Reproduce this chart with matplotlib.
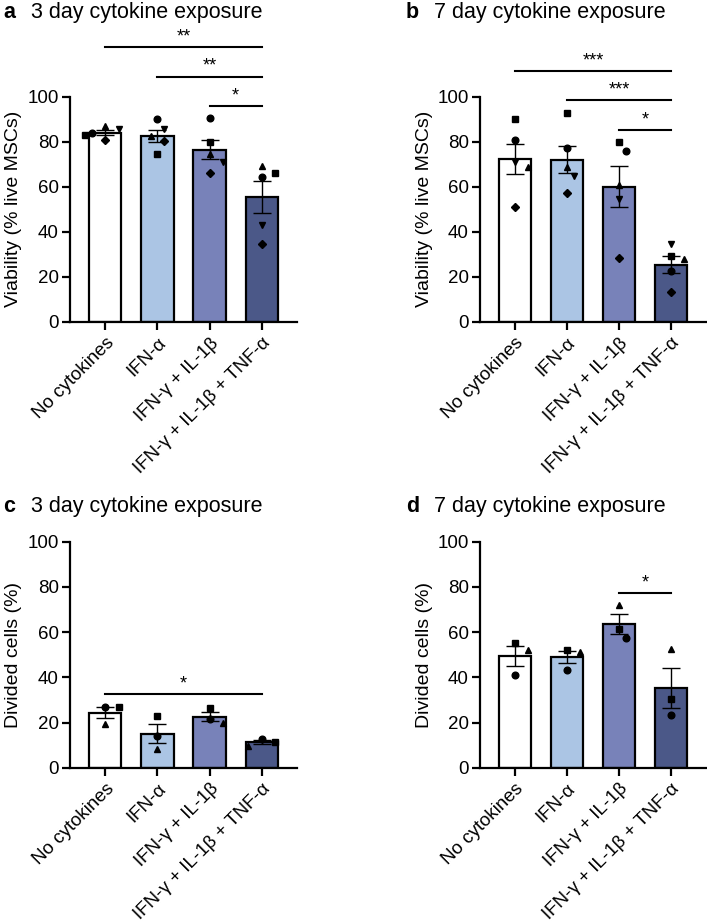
import numpy as np
import matplotlib
matplotlib.use("Agg")
import matplotlib.pyplot as plt

plt.rcParams['font.family'] = ['Liberation Sans', 'DejaVu Sans']

groups = ['No cytokines', 'IFN-α', 'IFN-γ + IL-1β', 'IFN-γ + IL-1β + TNF-α']
bar_colors = ['#ffffff', '#abc5e4', '#7882b9', '#4b5888']

# donors for the viability panels (5 donors) and proliferation panels (3 donors)
markers5 = ['o', 's', '^', 'v', 'D']
markers3 = ['s', 'o', '^']

# viability, 3 days: rows = group, cols = donor (o, s, ^, v, D)
via_3d = [[84.0, 83.0, 87.0, 85.5, 80.8],
          [90.0, 74.5, 82.5, 85.5, 80.3],
          [90.4, 80.0, 74.4, 71.2, 66.0],
          [64.2, 66.3, 69.2, 43.0, 34.5]]
# viability, 7 days
via_7d = [[80.8, 90.0, 68.6, 71.1, 51.1],
          [77.1, 92.9, 68.6, 64.8, 57.1],
          [76.0, 79.7, 60.8, 54.8, 28.6],
          [22.5, 29.3, 27.9, 34.8, 13.1]]
# divided cells, 3 days: cols = donor (s, o, ^)
div_3d = [[26.9, 26.9, 19.3],
          [22.9, 14.0, 8.2],
          [26.6, 21.5, 19.6],
          [11.2, 12.7, 9.7]]
# divided cells, 7 days
div_7d = [[55.3, 40.9, 51.9],
          [51.9, 43.4, 51.2],
          [61.5, 57.3, 71.8],
          [30.3, 23.2, 52.4]]

# significance comparisons: (group i, group j, label), drawn bottom-up
sig_a = [(2, 3, '*'), (1, 3, '**'), (0, 3, '**')]
sig_b = [(2, 3, '*'), (1, 3, '***'), (0, 3, '***')]
sig_c = [(0, 3, '*')]
sig_d = [(2, 3, '*')]

W, H = 707, 924
fig = plt.figure(figsize=(W / 100, H / 100), dpi=100)


def px_axes(left, right, top, bottom):
    return fig.add_axes([left / W, (H - bottom) / H, (right - left) / W, (bottom - top) / H])


def swarm(ax, x0, values, step_px=6.7, min_px=10.5):
    # simple beeswarm: spread points sideways when they would overlap
    order = np.argsort(values)[::-1]
    placed = []
    offs = np.zeros(len(values))
    cand = [0, 1, -1, 2, -2, 3, -3]
    for k in order:
        py = ax.transData.transform((x0, values[k]))[1]
        for c in cand:
            px = c * step_px
            if all(np.hypot(px - qx, py - qy) >= min_px for qx, qy in placed):
                break
        placed.append((px, py))
        offs[k] = px
    # convert pixel offsets to data units
    p0 = ax.transData.transform((x0, 0))[0]
    p1 = ax.transData.transform((x0 + 1, 0))[0]
    return x0 + offs / (p1 - p0)


def panel(ax, data, markers, sigs, ylabel, letter, title, title_xy):
    data = [np.array(d) for d in data]
    x = np.arange(len(groups))
    means = [d.mean() for d in data]
    sems = [d.std(ddof=1) / np.sqrt(len(d)) for d in data]
    ax.set_xlim(-0.673, 3.673)
    ax.set_ylim(0, 100)
    ax.bar(x, means, width=0.62, color=bar_colors, edgecolor='black', linewidth=1.6, zorder=2)
    ax.errorbar(x, means, yerr=sems, fmt='none', ecolor='black', elinewidth=1.0,
                capsize=6.5, capthick=1.0, zorder=3)
    for i, d in enumerate(data):
        xs = swarm(ax, x[i], d)
        for j, v in enumerate(d):
            ms = 3.6 if markers[j] == 'D' else 4.8
            ax.plot(xs[j], v, marker=markers[j], color='black', markersize=ms,
                    linestyle='none', zorder=4, clip_on=False)
    # significance bars
    prev = None
    for i, j, lab in sigs:
        top = max(d.max() for d in data[i:j + 1]) + 5.5
        y = top if prev is None else max(top, prev + 13)
        prev = y
        ax.plot([x[i], x[j]], [y, y], color='black', linewidth=1.5, clip_on=False, zorder=5)
        ax.text((x[i] + x[j]) / 2, y + 0.8, lab, ha='center', va='bottom', fontsize=13)
    for s in ['top', 'right']:
        ax.spines[s].set_visible(False)
    for s in ['left', 'bottom']:
        ax.spines[s].set_linewidth(1.6)
    ax.set_yticks(np.arange(0, 101, 20))
    ax.set_xticks(x)
    ax.set_xticklabels(groups, rotation=45, ha='right', va='top', rotation_mode='anchor',
                       fontsize=13.5)
    ax.tick_params(axis='both', direction='out', length=6, width=1.6, labelsize=13.5, pad=2)
    ax.tick_params(axis='x', pad=3)
    ax.set_ylabel(ylabel, fontsize=14)
    ax.yaxis.set_label_coords(-0.21, 0.5)
    tx, ty = title_xy
    fig.text(tx / W, 1 - ty / H, letter, fontsize=15.5, fontweight='bold', ha='left', va='baseline')
    fig.text((tx + 28) / W, 1 - ty / H, title, fontsize=15.5, ha='left', va='baseline')


ax_a = px_axes(70, 297, 96.7, 322)
ax_b = px_axes(480, 706, 96.7, 322)
ax_c = px_axes(70, 297, 541.7, 767.7)
ax_d = px_axes(480, 706, 541.7, 767.7)

panel(ax_a, via_3d, markers5, sig_a, 'Viability (% live MSCs)', 'a', '3 day cytokine exposure', (3, 18))
panel(ax_b, via_7d, markers5, sig_b, 'Viability (% live MSCs)', 'b', '7 day cytokine exposure', (406, 18))
panel(ax_c, div_3d, markers3, sig_c, 'Divided cells (%)', 'c', '3 day cytokine exposure', (3, 512))
panel(ax_d, div_7d, markers3, sig_d, 'Divided cells (%)', 'd', '7 day cytokine exposure', (406, 512))

fig.savefig('out.png', dpi=100)
